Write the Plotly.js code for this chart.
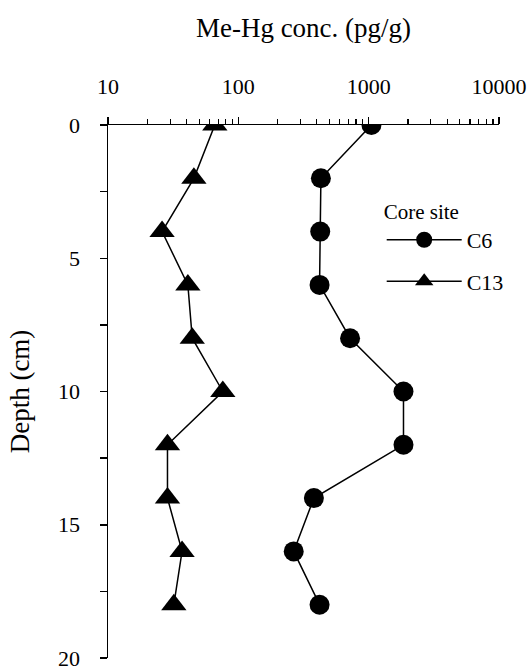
<!DOCTYPE html>
<html>
<head>
<meta charset="utf-8">
<script src="https://cdn.plot.ly/plotly-3.0.1.min.js"></script>
<style>html,body{margin:0;padding:0;background:#fff}#chart{width:532px;height:668px}</style>
</head>
<body>
<div id="chart"></div>
<script>
const depth = [0, 2, 4, 6, 8, 10, 12, 14, 16, 18];
const c6 = [1050, 430, 425, 420, 720, 1850, 1850, 380, 266, 420];
const c13 = [66, 45.6, 26, 41, 44.3, 76, 28.6, 28.6, 37, 32];
const xTicks = [10, 100, 1000, 10000];
const yTicks = [0, 5, 10, 15, 20];

const serif = "'Liberation Serif', 'Times New Roman', Times, serif";

const traces = [
  {x: c6, y: depth, name: 'C6', mode: 'lines+markers', legendgroup: 'a',
   line: {color: 'black', width: 1.5}, marker: {symbol: 'circle', size: 20, color: 'black'}},
  {x: c13, y: depth, name: 'C13', mode: 'lines+markers', legendgroup: 'b',
   line: {color: 'black', width: 1.5}, marker: {symbol: 'triangle-up', size: 22, color: 'black'}}
];

const layout = {
  width: 532, height: 668,
  margin: {l: 108, r: 33, t: 125, b: 10, autoexpand: false},
  paper_bgcolor: 'white', plot_bgcolor: 'white',
  font: {family: serif, color: 'black', size: 21},
  showlegend: true,
  legend: {x: 0.70, y: 0.875, xanchor: 'left', yanchor: 'top',
           title: {text: 'Core site', font: {size: 21}, side: 'top'},
           font: {size: 22}, traceorder: 'grouped', tracegroupgap: 10,
           itemwidth: 75,
           bgcolor: 'rgba(0,0,0,0)'},
  xaxis: {type: 'log', side: 'top', range: [1, 4],
          tickvals: xTicks, ticktext: xTicks.map(String),
          ticks: 'outside', ticklen: 7, tickwidth: 1.5, tickcolor: 'black',
          showline: true, linecolor: 'black', linewidth: 1.5,
          showgrid: false, zeroline: false, ticklabelstandoff: 14,
          ticklabeloverflow: 'allow', automargin: false,
          tickfont: {size: 22},
          minor: {ticks: 'outside', ticklen: 5, tickwidth: 1.2, tickcolor: 'black', dtick: 'D1', showgrid: false},
          title: {text: 'Me-Hg conc. (pg/g)', font: {size: 27}, standoff: 28}},
  yaxis: {range: [20, 0], tickvals: yTicks, ticktext: yTicks.map(String),
          ticks: 'outside', ticklen: 7, tickwidth: 1.5, tickcolor: 'black',
          showline: true, linecolor: 'black', linewidth: 1.5,
          showgrid: false, zeroline: false, ticklabelstandoff: 15,
          ticklabeloverflow: 'allow', automargin: false,
          tickfont: {size: 22},
          minor: {ticks: 'outside', ticklen: 7, tickwidth: 1.5, tickcolor: 'black', dtick: 2.5, showgrid: false},
          title: {text: 'Depth (cm)', font: {size: 27}, standoff: 20}}
};

Plotly.newPlot('chart', traces, layout, {displayModeBar: false, staticPlot: true});
</script>
</body>
</html>
